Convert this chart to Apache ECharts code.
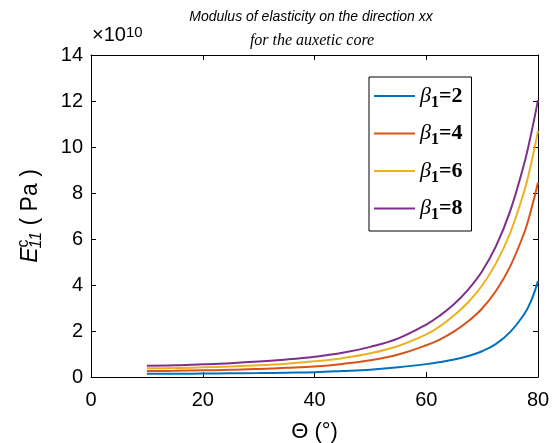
<!DOCTYPE html>
<html>
<head>
<meta charset="utf-8">
<script src="https://cdn.jsdelivr.net/npm/echarts@6/dist/echarts.min.js"></script>
<style>
  html, body { margin: 0; padding: 0; background: #fff; }
  #chart { width: 554px; height: 443px; }
</style>
</head>
<body>
<div id="chart"></div>
<script>
// Angle Θ in degrees
const theta = [10, 15, 20, 25, 30, 35, 40, 45, 50, 55, 60, 62.5, 65, 67.5, 70, 72.5, 75, 77.5, 78.75, 80];

// E11 in units of 1e10 Pa, one list per β1
const beta2 = [0.14, 0.14, 0.15, 0.16, 0.17, 0.19, 0.21, 0.26, 0.32, 0.42, 0.56, 0.65, 0.76, 0.91, 1.12, 1.44, 1.95, 2.72, 3.30, 4.17];
const beta4 = [0.26, 0.27, 0.29, 0.31, 0.35, 0.40, 0.46, 0.57, 0.73, 0.98, 1.38, 1.64, 1.98, 2.42, 2.98, 3.75, 4.80, 6.25, 7.25, 8.46];
const beta6 = [0.38, 0.39, 0.42, 0.46, 0.51, 0.58, 0.68, 0.82, 1.03, 1.35, 1.85, 2.21, 2.68, 3.25, 3.98, 4.95, 6.25, 8.05, 9.25, 10.7];
const beta8 = [0.49, 0.51, 0.55, 0.60, 0.67, 0.76, 0.88, 1.05, 1.31, 1.68, 2.28, 2.68, 3.17, 3.80, 4.60, 5.70, 7.20, 9.25, 10.55, 12.04];

const betaNames = ['2', '4', '6', '8'];
const colors = ['#0072BD', '#D95319', '#EDB120', '#7E2F8E'];

const xTicks = { min: 0, max: 80, interval: 20 };
const yTicks = { min: 0, max: 14, interval: 2 };

const sans = '"Liberation Sans", Arial, Helvetica, sans-serif';
const serif = '"Liberation Serif", "Times New Roman", serif';

const chart = echarts.init(document.getElementById('chart'), null, { renderer: 'canvas' });

const pairs = vals => theta.map((t, i) => [t, vals[i]]);

const frameAxis = {
  axisLine: { show: true, onZero: false, lineStyle: { color: '#000', width: 1 } },
  axisTick: { show: true, inside: true, length: 5, lineStyle: { color: '#000', width: 1 } },
  splitLine: { show: false }
};

chart.setOption({
  animation: false,
  backgroundColor: '#fff',
  grid: { left: 91, right: 16, top: 55, bottom: 66, containLabel: false, outerBoundsMode: 'none' },
  xAxis: [
    Object.assign({
      type: 'value', position: 'bottom', ...xTicks,
      axisLabel: { color: '#000', fontFamily: sans, fontSize: 20, margin: 13 },
      name: 'Θ (°)', nameLocation: 'middle', nameGap: 44,
      nameTextStyle: { color: '#000', fontFamily: sans, fontSize: 22 }
    }, frameAxis),
    Object.assign({
      type: 'value', position: 'top', ...xTicks,
      axisLabel: { show: false }
    }, frameAxis)
  ],
  yAxis: [
    Object.assign({
      type: 'value', position: 'left', ...yTicks,
      axisLabel: { color: '#000', fontFamily: sans, fontSize: 20, margin: 8 },
      name: '{e|E}{sup|c}{sub|11}{u| ( Pa )}',
      nameLocation: 'middle', nameGap: 46, nameRotate: 90,
      nameTextStyle: {
        color: '#000', fontFamily: sans, fontSize: 23,
        rich: {
          e: { fontFamily: sans, fontSize: 23, fontStyle: 'italic', color: '#000' },
          sup: { fontFamily: sans, fontSize: 16, verticalAlign: 'bottom', padding: [0, 0, 13, 0], color: '#000' },
          sub: { fontFamily: sans, fontSize: 16, fontStyle: 'italic', verticalAlign: 'top', padding: [13, 0, 0, -9], color: '#000' },
          u: { fontFamily: sans, fontSize: 23, color: '#000' }
        }
      }
    }, frameAxis),
    Object.assign({
      type: 'value', position: 'right', ...yTicks,
      axisLabel: { show: false }
    }, frameAxis)
  ],
  legend: {
    orient: 'vertical',
    left: 369, top: 77,
    padding: [8, 9, 8, 5],
    itemWidth: 41, itemHeight: 14, itemGap: 12,
    borderColor: '#000', borderWidth: 1, backgroundColor: '#fff',
    icon: 'path://M0,6 L41,6 L41,8 L0,8 Z',
    formatter: name => '{b|β}{s|1}{t|=' + name.split('=')[1] + '}',
    textStyle: {
      color: '#000',
      rich: {
        b: { fontFamily: serif, fontSize: 22, fontStyle: 'italic', height: 24, color: '#000' },
        s: { fontFamily: serif, fontSize: 16, fontWeight: 'bold', verticalAlign: 'top', padding: [13, 0, 0, 0], color: '#000' },
        t: { fontFamily: serif, fontSize: 22, fontWeight: 'bold', color: '#000' }
      }
    },
    data: betaNames.map(b => 'β1=' + b)
  },
  graphic: [
    {
      type: 'text', x: 311, y: 10,
      style: { text: 'Modulus of elasticity on the direction xx', font: 'italic 14px ' + sans, fill: '#000', align: 'center' }
    },
    {
      type: 'text', x: 312, y: 33,
      style: { text: 'for the auxetic core', font: 'italic 16px ' + serif, fill: '#000', align: 'center' }
    },
    {
      type: 'text', x: 92, y: 25,
      style: {
        text: '{m|×10}{p|10}',
        rich: {
          m: { fontFamily: sans, fontSize: 20, color: '#000', verticalAlign: 'bottom' },
          p: { fontFamily: sans, fontSize: 15, color: '#000', verticalAlign: 'top' }
        }
      }
    }
  ],
  series: [beta2, beta4, beta6, beta8].map((vals, i) => ({
    name: 'β1=' + betaNames[i],
    type: 'line',
    xAxisIndex: 0, yAxisIndex: 0,
    data: pairs(vals),
    showSymbol: false,
    smooth: 0.4,
    lineStyle: { color: colors[i], width: 2 },
    itemStyle: { color: colors[i] }
  }))
});
</script>
</body>
</html>
